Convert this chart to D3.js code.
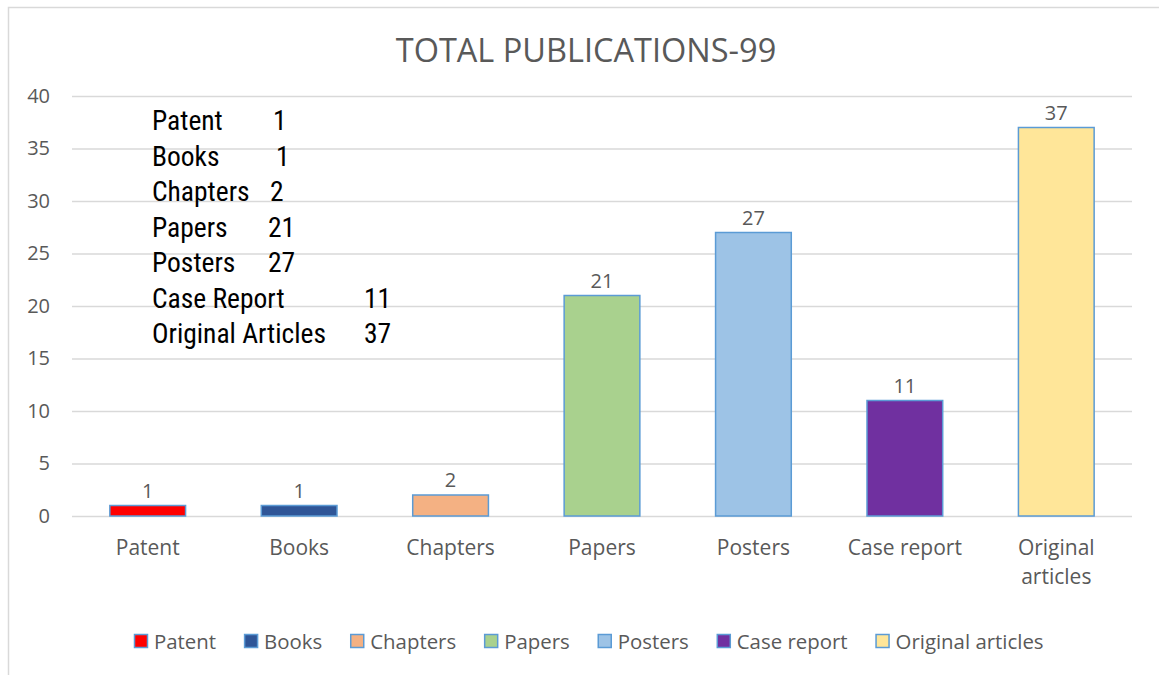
<!DOCTYPE html>
<meta charset="utf-8">
<script src="https://cdn.jsdelivr.net/npm/d3@7"></script>
<style>
  body { margin: 0; background: #fff; }
  text { font-family: "Open Sans", sans-serif; }
</style>
<div id="chart"></div>
<script>

// categories, values and colours
var categories = ["Patent", "Books", "Chapters", "Papers", "Posters", "Case report", "Original articles"];
var counts = [1, 1, 2, 21, 27, 11, 37];
var colors = ["#FF0000", "#2F5597", "#F4B183", "#A9D18E", "#9DC3E6", "#7030A0", "#FFE699"];
var yTicks = [0, 5, 10, 15, 20, 25, 30, 35, 40];

// the text box in the upper left
var boxLabels = ["Patent", "Books", "Chapters", "Papers", "Posters", "Case Report", "Original Articles"];
var boxValues = ["1", "1", "2", "21", "27", "11", "37"];

var title = "TOTAL PUBLICATIONS-99";

var W = 1159, H = 675;
var margin = {top: 96, right: 27, bottom: 159, left: 72};
var width = W - margin.left - margin.right,
    height = H - margin.top - margin.bottom;

var svg = d3.select("#chart")
  .append("svg")
    .attr("width", W)
    .attr("height", H);

// chart area border
svg.append("path")
  .attr("d", "M8.5,675 L8.5,7.5 L1159,7.5")
  .attr("fill", "none")
  .attr("stroke", "#d9d9d9")
  .attr("stroke-width", 1.5);

svg.append("text")
  .attr("x", 586)
  .attr("y", 62)
  .attr("text-anchor", "middle")
  .style("font-size", "32.5px")
  .style("fill", "#595959")
  .text(title);

var g = svg.append("g")
  .attr("transform", "translate(" + margin.left + "," + margin.top + ")");

var x = d3.scaleBand()
  .domain(categories)
  .range([0, width])
  .paddingInner(0.5)
  .paddingOuter(0.25);

var y = d3.scaleLinear()
  .domain([0, 40])
  .range([height, 0]);

// gridlines
g.append("g")
  .selectAll("line")
  .data(yTicks)
  .enter()
  .append("line")
    .attr("x1", 0)
    .attr("x2", width)
    .attr("y1", function(d) { return y(d) + 0.5; })
    .attr("y2", function(d) { return y(d) + 0.5; })
    .attr("stroke", "#d9d9d9")
    .attr("stroke-width", 1.5);

// y axis labels
var yAxis = g.append("g")
  .attr("transform", "translate(-22,0)")
  .call(d3.axisLeft(y).tickValues(yTicks).tickSize(0).tickPadding(0));
yAxis.select(".domain").remove();
yAxis.selectAll("text")
  .style("font-family", "'Open Sans', sans-serif")
  .style("font-size", "20px")
  .style("fill", "#595959");

// bars
g.selectAll(".bar")
  .data(categories)
  .enter()
  .append("rect")
    .attr("class", "bar")
    .attr("x", function(d) { return x(d); })
    .attr("width", x.bandwidth())
    .attr("y", function(d, i) { return y(counts[i]); })
    .attr("height", function(d, i) { return height - y(counts[i]); })
    .attr("fill", function(d, i) { return colors[i]; })
    .attr("stroke", "#5B9BD5")
    .attr("stroke-width", 1.5);

// value labels
g.selectAll(".val")
  .data(categories)
  .enter()
  .append("text")
    .attr("x", function(d) { return x(d) + x.bandwidth() / 2; })
    .attr("y", function(d, i) { return y(counts[i]) - 8; })
    .attr("text-anchor", "middle")
    .style("font-size", "20px")
    .style("fill", "#595959")
    .text(function(d, i) { return counts[i]; });

// category labels, long ones wrap onto two lines
g.selectAll(".cat")
  .data(categories)
  .enter()
  .append("text")
    .attr("text-anchor", "middle")
    .attr("transform", function(d) { return "translate(" + (x(d) + x.bandwidth() / 2) + "," + (height + 39) + ")"; })
    .style("font-size", "21px")
    .style("fill", "#595959")
    .each(function(d) {
      var t = d3.select(this).text(d);
      if (this.getComputedTextLength() > x.step() * 0.9) {
        t.text(null);
        d.split(" ").forEach(function(w, k) {
          t.append("tspan").attr("x", 0).attr("dy", k ? 29 : 0).text(w);
        });
      }
    });

// legend
var legend = svg.append("g")
  .attr("transform", "translate(0,641)");
var lx = 134;
categories.forEach(function(c, i) {
  var item = legend.append("g").attr("transform", "translate(" + lx + ",0)");
  item.append("rect")
    .attr("x", 0.5).attr("y", -6.5)
    .attr("width", 13).attr("height", 13)
    .attr("fill", colors[i])
    .attr("stroke", "#5B9BD5")
    .attr("stroke-width", 1.5);
  var t = item.append("text")
    .attr("x", 20)
    .attr("y", 7.5)
    .style("font-size", "20.4px")
    .style("fill", "#595959")
    .text(c);
  lx += 20 + t.node().getComputedTextLength() + 28;
});

// text box
var box = svg.append("g")
  .attr("transform", "translate(152,130)");
var valueX = [121, 124, 118, 116, 116, 212, 212];
boxLabels.forEach(function(lab, i) {
  box.append("text")
    .attr("x", 0)
    .attr("y", i * 35.5)
    .style("font-family", "'Liberation Sans Narrow', 'Roboto Condensed', sans-serif")
    .style("font-size", "27.5px")
    .style("fill", "#000")
    .text(lab);
  box.append("text")
    .attr("x", valueX[i])
    .attr("y", i * 35.5)
    .style("font-family", "'Liberation Sans Narrow', 'Roboto Condensed', sans-serif")
    .style("font-size", "27.5px")
    .style("fill", "#000")
    .text(boxValues[i]);
});

</script>
